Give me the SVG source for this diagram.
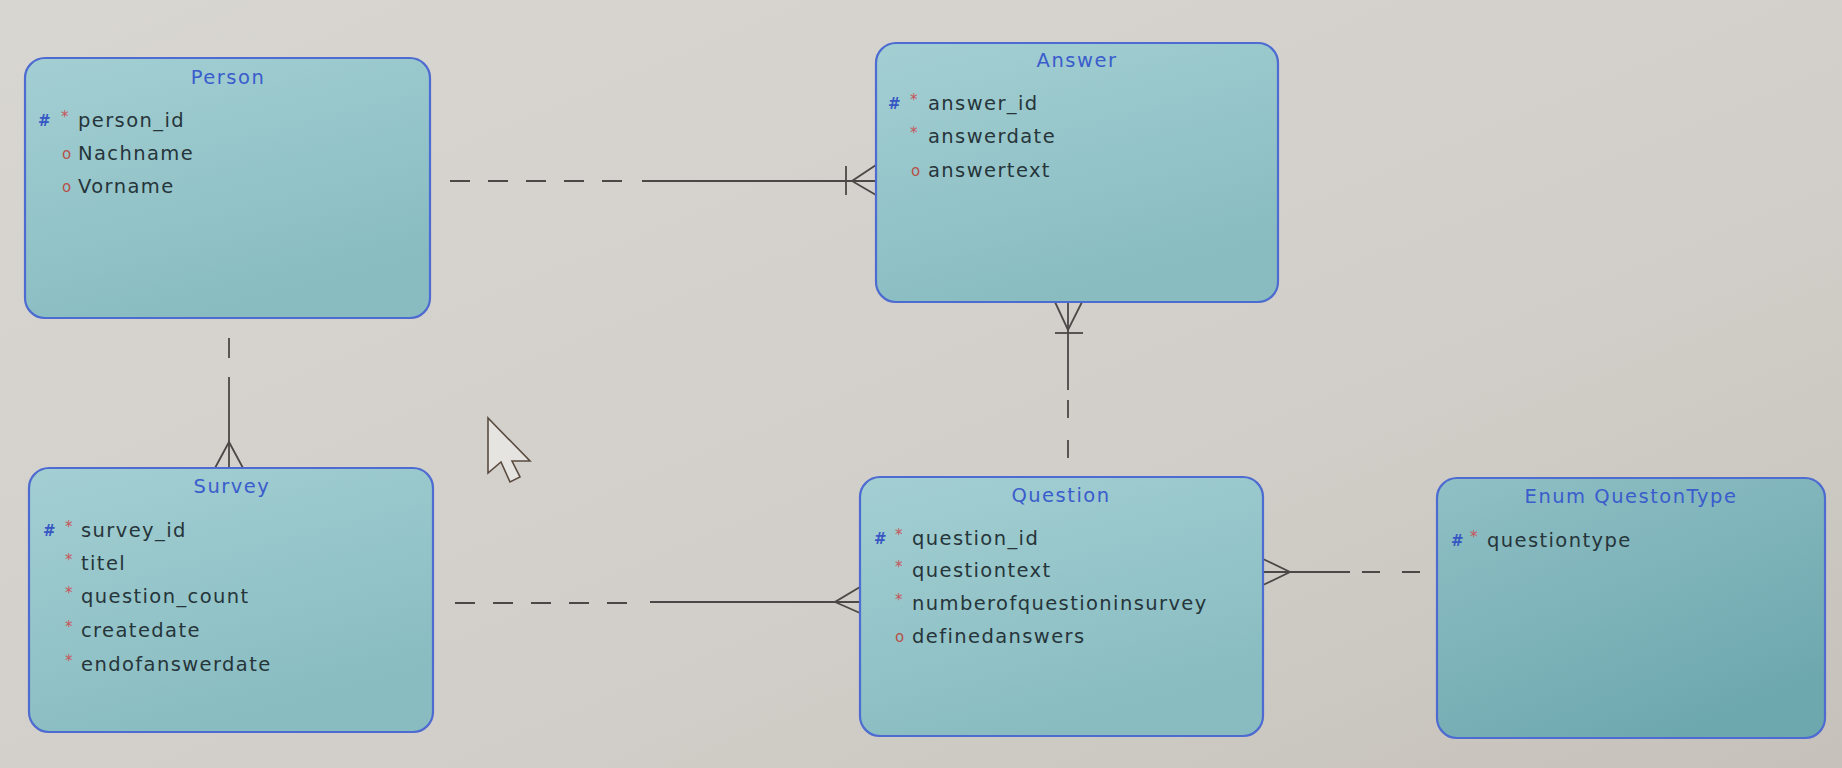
<svg xmlns="http://www.w3.org/2000/svg" width="1842" height="768" viewBox="0 0 1842 768">
  <defs>
    <linearGradient id="bg" x1="0" y1="0" x2="1" y2="1">
      <stop offset="0" stop-color="#d8d6d1"/>
      <stop offset="0.6" stop-color="#d2cfca"/>
      <stop offset="1" stop-color="#c6c1ba"/>
    </linearGradient>
    <linearGradient id="box" x1="0" y1="0" x2="0.4" y2="1">
      <stop offset="0" stop-color="#a3cfd3"/>
      <stop offset="1" stop-color="#88bcc1"/>
    </linearGradient>
    <linearGradient id="boxDark" x1="0" y1="0" x2="0.6" y2="1">
      <stop offset="0" stop-color="#8fc0c5"/>
      <stop offset="1" stop-color="#6ea8af"/>
    </linearGradient>
    <style>
      .ent { fill: url(#box); stroke: #4d6bd0; stroke-width: 2.2; }
      .entd { fill: url(#boxDark); stroke: #4d6bd0; stroke-width: 2.2; }
      .title { font-family: "DejaVu Sans", "Liberation Sans", sans-serif; font-size: 19.5px; letter-spacing: 1.5px; fill: #3a5ccc; text-anchor: middle; }
      .attr { font-family: "DejaVu Sans", "Liberation Sans", sans-serif; font-size: 19.5px; letter-spacing: 1.4px; fill: #26353a; }
      .pk { font-family: "DejaVu Sans", "Liberation Sans", sans-serif; font-size: 15px; font-weight: bold; fill: #3656c4; }
      .req { font-family: "DejaVu Sans", "Liberation Sans", sans-serif; font-size: 15px; fill: #c8555a; }
      .opt { font-family: "DejaVu Sans", "Liberation Sans", sans-serif; font-size: 15px; fill: #b65049; }
      .solid { fill: none; stroke: #4a4947; stroke-width: 1.8; }
      .dash { fill: none; stroke: #4a4947; stroke-width: 1.8; stroke-dasharray: 20 18; }
      .dashv { fill: none; stroke: #4a4947; stroke-width: 1.8; stroke-dasharray: 18 22; }
    </style>
  </defs>

  <rect x="0" y="0" width="1842" height="768" fill="url(#bg)"/>

  <g id="connectors">
    <g id="rel-person-answer">
      <line class="dash" x1="450" y1="181" x2="625" y2="181"/>
      <line class="solid" x1="642" y1="181" x2="876" y2="181"/>
      <line class="solid" x1="846" y1="166" x2="846" y2="195"/>
      <polyline class="solid" points="876,165 852,181 876,195"/>
    </g>
    <g id="rel-person-survey">
      <line class="solid" x1="229" y1="338" x2="229" y2="358"/>
      <line class="solid" x1="229" y1="377" x2="229" y2="468"/>
      <polyline class="solid" points="215,468 229,442 243,468"/>
    </g>
    <g id="rel-answer-question">
      <line class="solid" x1="1068" y1="302" x2="1068" y2="390"/>
      <line class="dashv" x1="1068" y1="400" x2="1068" y2="460"/>
      <polyline class="solid" points="1055,302 1068,330 1082,302"/>
      <line class="solid" x1="1055" y1="333" x2="1083" y2="333"/>
    </g>
    <g id="rel-survey-question">
      <line class="dash" x1="455" y1="603" x2="635" y2="603"/>
      <line class="solid" x1="650" y1="602" x2="860" y2="602"/>
      <polyline class="solid" points="860,587 835,602 860,613"/>
    </g>
    <g id="rel-question-enum">
      <line class="solid" x1="1263" y1="572" x2="1350" y2="572"/>
      <line class="dashv" x1="1362" y1="572" x2="1422" y2="572"/>
      <polyline class="solid" points="1263,559 1290,572 1263,585"/>
    </g>
  </g>

  <g id="Person">
    <rect class="ent" x="25" y="58" width="405" height="260" rx="20"/>
    <text class="title" x="228" y="84">Person</text>
    <text class="pk" x="38" y="126">#</text><text class="req" x="61" y="122">*</text>
    <text class="attr" x="78" y="127">person_id</text>
    <text class="opt" x="62" y="159">o</text>
    <text class="attr" x="78" y="160">Nachname</text>
    <text class="opt" x="62" y="192">o</text>
    <text class="attr" x="78" y="193">Vorname</text>
  </g>

  <g id="Answer">
    <rect class="ent" x="876" y="43" width="402" height="259" rx="20"/>
    <text class="title" x="1077" y="67">Answer</text>
    <text class="pk" x="888" y="109">#</text><text class="req" x="910" y="105">*</text>
    <text class="attr" x="928" y="110">answer_id</text>
    <text class="req" x="910" y="138">*</text>
    <text class="attr" x="928" y="143">answerdate</text>
    <text class="opt" x="911" y="176">o</text>
    <text class="attr" x="928" y="177">answertext</text>
  </g>

  <g id="Survey">
    <rect class="ent" x="29" y="468" width="404" height="264" rx="20"/>
    <text class="title" x="232" y="493">Survey</text>
    <text class="pk" x="43" y="536">#</text><text class="req" x="65" y="532">*</text>
    <text class="attr" x="81" y="537">survey_id</text>
    <text class="req" x="65" y="565">*</text>
    <text class="attr" x="81" y="570">titel</text>
    <text class="req" x="65" y="598">*</text>
    <text class="attr" x="81" y="603">question_count</text>
    <text class="req" x="65" y="632">*</text>
    <text class="attr" x="81" y="637">createdate</text>
    <text class="req" x="65" y="666">*</text>
    <text class="attr" x="81" y="671">endofanswerdate</text>
  </g>

  <g id="Question">
    <rect class="ent" x="860" y="477" width="403" height="259" rx="20"/>
    <text class="title" x="1061" y="502">Question</text>
    <text class="pk" x="874" y="544">#</text><text class="req" x="895" y="540">*</text>
    <text class="attr" x="912" y="545">question_id</text>
    <text class="req" x="895" y="572">*</text>
    <text class="attr" x="912" y="577">questiontext</text>
    <text class="req" x="895" y="605">*</text>
    <text class="attr" x="912" y="610">numberofquestioninsurvey</text>
    <text class="opt" x="895" y="642">o</text>
    <text class="attr" x="912" y="643">definedanswers</text>
  </g>

  <g id="EnumQuestonType">
    <rect class="entd" x="1437" y="478" width="388" height="260" rx="20"/>
    <text class="title" x="1631" y="503">Enum QuestonType</text>
    <text class="pk" x="1451" y="546">#</text><text class="req" x="1470" y="542">*</text>
    <text class="attr" x="1487" y="547">questiontype</text>
  </g>

  <g id="cursor">
    <polygon points="488,418 488,473 501,462 510,482 520,477 512,461 530,461" fill="#e6e4e0" stroke="#5a4b40" stroke-width="1.6" stroke-linejoin="miter"/>
  </g>
</svg>
